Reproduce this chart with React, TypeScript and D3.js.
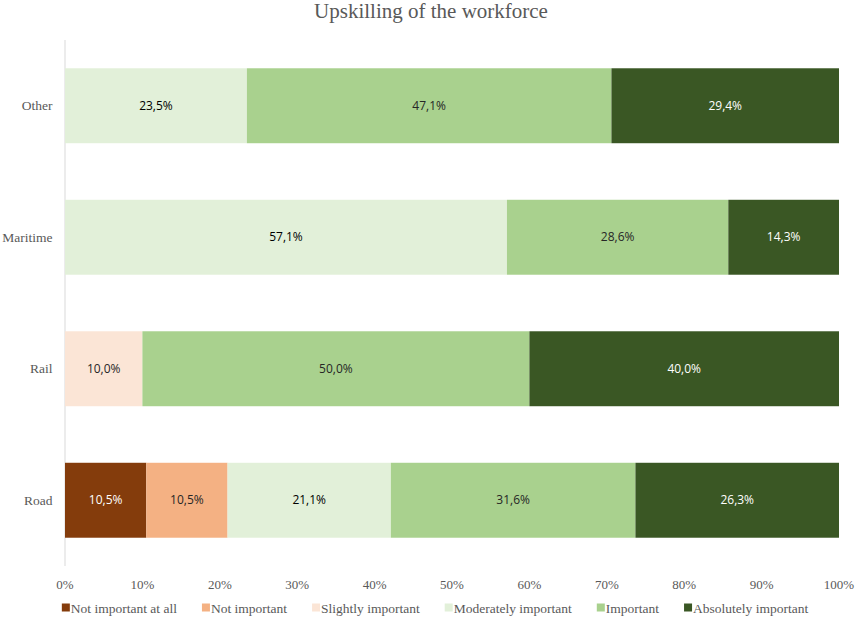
import { useEffect, useRef } from "react";
import * as d3 from "d3";

const CATEGORIES = ["Other", "Maritime", "Rail", "Road"];
const LEVELS = ["Not important at all", "Not important", "Slightly important", "Moderately important", "Important", "Absolutely important"];
const COLORS = ["#843C0C", "#F4B183", "#FBE5D6", "#E2F0D9", "#A9D18E", "#3A5724"];
const LABEL_COLORS = ["#FFFFFF", "#262626", "#262626", "#000000", "#262626", "#FFFFFF"];
// share per category, in LEVELS order
const OTHER = [0, 0, 0, 23.5, 47.1, 29.4];
const MARITIME = [0, 0, 0, 57.1, 28.6, 14.3];
const RAIL = [0, 0, 10.0, 0, 50.0, 40.0];
const ROAD = [10.5, 10.5, 0, 21.1, 31.6, 26.3];
const SHARES = [OTHER, MARITIME, RAIL, ROAD];
const X_TICKS = [0, 10, 20, 30, 40, 50, 60, 70, 80, 90, 100];

export default function App() {
  const svgRef = useRef<SVGSVGElement>(null);

  useEffect(() => {
    if (!svgRef.current) return;
    const W = 858, H = 619;
    const mg = { t: 40, r: 19, b: 53, l: 65 };
    const IW = W - mg.l - mg.r, IH = H - mg.t - mg.b;

    const svg = d3.select(svgRef.current);
    svg.selectAll("*").remove();

    svg.append("text").attr("x", W / 2 + 2).attr("y", 18).attr("text-anchor", "middle")
      .attr("font-family", "'Liberation Serif', 'Times New Roman', serif").attr("font-size", 21).attr("fill", "#595959")
      .text("Upskilling of the workforce");

    const x = d3.scaleLinear().domain([0, 100]).range([0, IW]);
    const y = d3.scaleBand().domain(CATEGORIES).range([0, IH]).paddingInner(0.43).paddingOuter(0.215);
    const root = svg.append("g").attr("transform", `translate(${mg.l},${mg.t})`);

    root.append("line").attr("x1", 0).attr("x2", 0).attr("y1", 0).attr("y2", IH).attr("stroke", "#D9D9D9");

    CATEGORIES.forEach((cat, ci) => {
      let cum = 0;
      SHARES[ci].forEach((v, li) => {
        if (v <= 0) return;
        const x0 = x(cum), x1 = x(cum + v);
        root.append("rect").attr("x", x0).attr("y", y(cat)!).attr("width", x1 - x0).attr("height", y.bandwidth())
          .attr("fill", COLORS[li]);
        root.append("text").attr("x", (x0 + x1) / 2).attr("y", y(cat)! + y.bandwidth() / 2).attr("dy", "0.35em")
          .attr("text-anchor", "middle").attr("font-family", "'Open Sans', sans-serif").attr("font-size", 12)
          .attr("fill", LABEL_COLORS[li]).text(`${v.toFixed(1).replace(".", ",")}%`);
        cum += v;
      });
      root.append("text").attr("x", -12.5).attr("y", y(cat)! + y.bandwidth() / 2).attr("dy", "0.35em")
        .attr("text-anchor", "end").attr("font-family", "'Liberation Serif', serif").attr("font-size", 13.5)
        .attr("fill", "#595959").text(cat);
    });

    X_TICKS.forEach(t => {
      root.append("text").attr("x", x(t)).attr("y", IH + 18).attr("dy", "0.35em").attr("text-anchor", "middle")
        .attr("font-family", "'Liberation Serif', serif").attr("font-size", 13).attr("fill", "#595959").text(`${t}%`);
    });

    // legend, measured and laid out left to right
    const lg = svg.append("g");
    let lx = 0;
    LEVELS.forEach((name, i) => {
      const item = lg.append("g").attr("transform", `translate(${lx},0)`);
      item.append("rect").attr("x", 0).attr("y", -4.5).attr("width", 8).attr("height", 8).attr("fill", COLORS[i]);
      const t = item.append("text").attr("x", 9).attr("y", 0).attr("dy", "0.35em")
        .attr("font-family", "'Liberation Serif', serif").attr("font-size", 13.5).attr("fill", "#595959").text(name);
      const tw = (t.node() as SVGTextElement).getComputedTextLength();
      lx += 9 + tw + 25;
    });
    lx -= 25;
    lg.attr("transform", `translate(${(W - lx) / 2 + 6},608)`);
  }, []);

  return (
    <div style={{ position: "fixed", left: 0, top: 0, background: "#fff", width: 858, height: 619, overflow: "hidden" }}>
      <svg ref={svgRef} width={858} height={619} style={{ display: "block" }} />
    </div>
  );
}
